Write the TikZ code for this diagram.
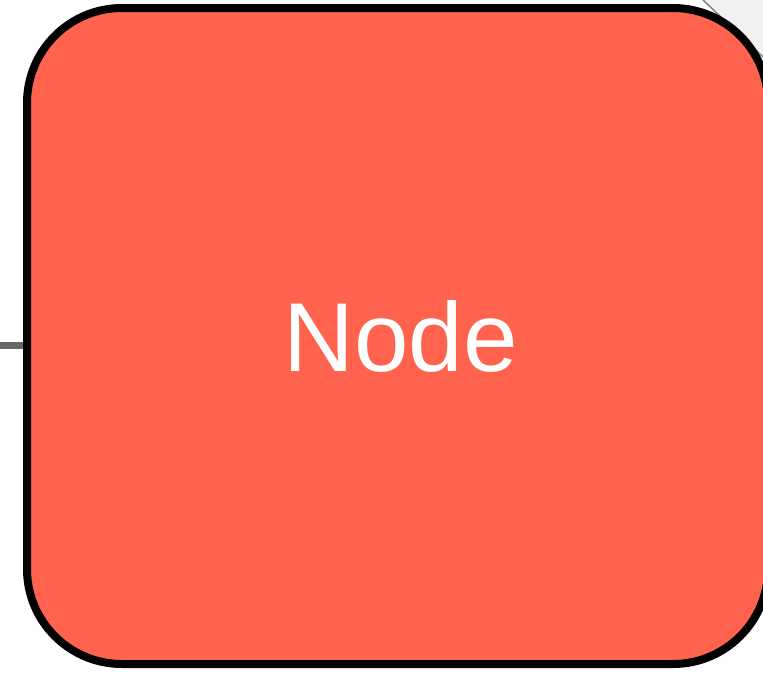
\documentclass[tikz,border=0pt]{standalone}
\usepackage{fontspec}
\setmainfont{Liberation Sans}
\definecolor{nodefill}{RGB}{255,99,77}
\definecolor{bgshape}{RGB}{242,242,242}
\definecolor{bgline}{RGB}{130,130,130}
\definecolor{conn}{RGB}{102,102,102}
\begin{document}
\begin{tikzpicture}[x=1pt,y=-1pt,
  box/.style={draw=black, line width=8pt, fill=nodefill, rounded corners=95pt,
    minimum width=741pt, minimum height=656pt, inner sep=0pt, text=white,
    font=\fontsize{98}{118}\selectfont},
  connline/.style={draw=conn, line width=7pt},
  bgpatch/.style={fill=bgshape},
  bgedge/.style={draw=bgline, line width=1.5pt}]
\useasboundingbox (0,0) rectangle (763,672);
\fill[bgpatch] (703,0) -- (763,57) -- (763,0) -- cycle;
\coordinate (g1) at (703,0);
\coordinate (g2) at (763,57);
\draw[bgedge] (g1) -- (g2);
\node[box] (n) at (397.5,336) {\hspace{6pt}Node};
\coordinate (src) at (0,345.5);
\draw[connline] (src) -- (src -| n.west);
\end{tikzpicture}
\end{document}
